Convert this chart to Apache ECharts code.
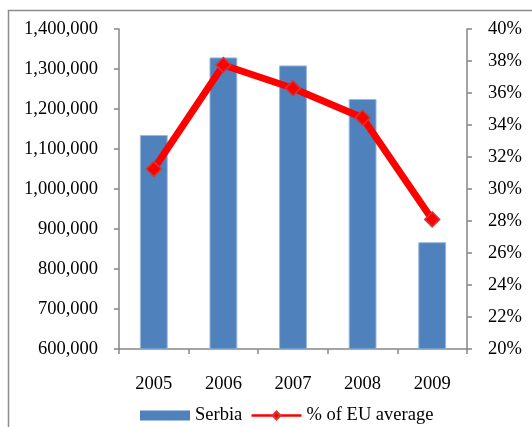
<!DOCTYPE html>
<html><head><meta charset="utf-8">
<script src="https://cdn.jsdelivr.net/npm/echarts@6/dist/echarts.min.js"></script>
<style>html,body{margin:0;padding:0;background:#fff}#c{width:532px;height:427px}</style>
</head><body><div id="c"></div>
<script>
var categories = ['2005','2006','2007','2008','2009'];
var serbia = [1135000, 1329000, 1309000, 1225000, 867000];
var euPercent = [31.25, 37.75, 36.3, 34.45, 28.1];
var leftTicks = {min: 600000, max: 1400000, interval: 100000};
var rightTicks = {min: 20, max: 40, interval: 2};

var font = 'Liberation Serif';
var fs = 18.5;
var chart = echarts.init(document.getElementById('c'));
chart.setOption({
  animation: false,
  textStyle: {fontFamily: font},
  graphic: [{type: 'rect', shape: {x: 8.5, y: 10.5, width: 600, height: 600}, style: {fill: 'none', stroke: '#8c8c8c', lineWidth: 1.5}}],
  grid: {left: 119, right: 65, top: 29, bottom: 78},
  legend: {
    top: 401, left: 135, itemWidth: 50, itemHeight: 10, itemGap: 8,
    textStyle: {fontFamily: font, fontSize: fs, color: '#000'},
    data: [{name: 'Serbia', icon: 'rect', itemStyle: {borderWidth: 0}},
           {name: '% of EU average', lineStyle: {width: 2.5}}]
  },
  xAxis: {
    type: 'category', data: categories,
    axisLine: {lineStyle: {color: '#868686', width: 1.5}},
    axisTick: {show: true, length: 5, lineStyle: {color: '#868686', width: 1.5}},
    axisLabel: {fontFamily: font, fontSize: fs, color: '#000', margin: 26}
  },
  yAxis: [{
    type: 'value', min: leftTicks.min, max: leftTicks.max, interval: leftTicks.interval,
    axisLine: {show: true, lineStyle: {color: '#868686', width: 1.5}},
    axisTick: {show: true, length: 5, lineStyle: {color: '#868686', width: 1.5}},
    splitLine: {show: false},
    axisLabel: {fontFamily: font, fontSize: fs, color: '#000', margin: 21,
      formatter: function (v) { return v.toLocaleString('en-US'); }}
  }, {
    type: 'value', min: rightTicks.min, max: rightTicks.max, interval: rightTicks.interval,
    axisLine: {show: true, lineStyle: {color: '#868686', width: 1.5}},
    axisTick: {show: true, length: 5, lineStyle: {color: '#868686', width: 1.5}},
    splitLine: {show: false},
    axisLabel: {fontFamily: font, fontSize: fs, color: '#000', margin: 21,
      formatter: function (v) { return v + '%'; }}
  }],
  series: [{
    name: 'Serbia', type: 'bar', data: serbia, barWidth: '40%',
    itemStyle: {color: '#4F81BD', borderColor: '#9bb7da', borderWidth: 1}
  }, {
    name: '% of EU average', type: 'line', yAxisIndex: 1, data: euPercent,
    symbol: 'diamond', symbolSize: 15,
    lineStyle: {color: '#FF0000', width: 7},
    itemStyle: {color: '#FF0000', borderColor: '#d43a3a', borderWidth: 1.5}
  }]
});
</script></body></html>
